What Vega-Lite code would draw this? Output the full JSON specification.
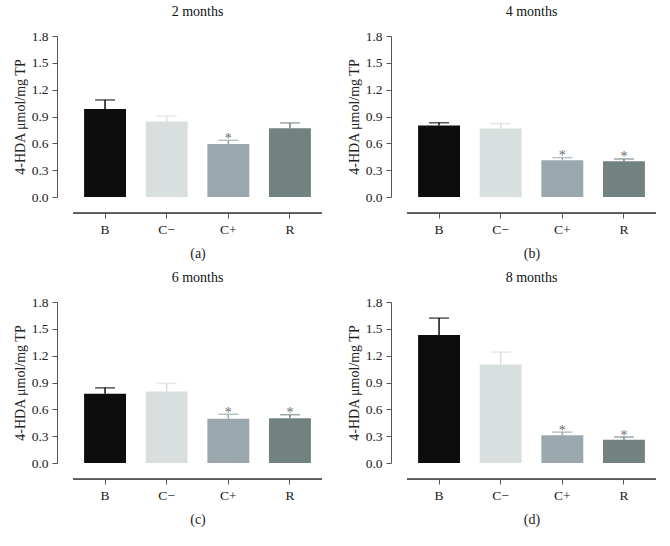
{
  "$schema": "https://vega.github.io/schema/vega-lite/v6.json",
  "padding": {"left": 13, "top": 5, "right": 5, "bottom": 5},
  "background": "white",
  "config": {
    "view": {"stroke": null},
    "font": "Liberation Serif",
    "title": {"font": "Liberation Serif", "fontSize": 14, "fontWeight": "normal", "color": "#111", "offset": 10},
    "axis": {
      "labelFont": "Liberation Serif", "labelFontSize": 13.5, "labelColor": "#222", "labelOverlap": false,
      "titleFont": "Liberation Serif", "titleFontSize": 14, "titleFontWeight": "normal", "titleColor": "#222",
      "domainColor": "#555", "tickColor": "#555", "domainWidth": 1, "tickWidth": 1,
      "grid": false, "tickSize": 5, "offset": 16
    },
    "axisX": {"labelPadding": 4, "titlePadding": 11, "labelAngle": 0},
    "axisY": {"labelPadding": 4, "titlePadding": 4}
  },
  "datasets": {
    "d": [
      {"panel": "a", "group": "B", "value": 0.985, "upper": 1.085, "sig": ""},
      {"panel": "a", "group": "C−", "value": 0.845, "upper": 0.905, "sig": ""},
      {"panel": "a", "group": "C+", "value": 0.593, "upper": 0.634, "sig": "*"},
      {"panel": "a", "group": "R", "value": 0.768, "upper": 0.828, "sig": ""},
      {"panel": "b", "group": "B", "value": 0.80, "upper": 0.83, "sig": ""},
      {"panel": "b", "group": "C−", "value": 0.765, "upper": 0.82, "sig": ""},
      {"panel": "b", "group": "C+", "value": 0.41, "upper": 0.44, "sig": "*"},
      {"panel": "b", "group": "R", "value": 0.40, "upper": 0.425, "sig": "*"},
      {"panel": "c", "group": "B", "value": 0.775, "upper": 0.84, "sig": ""},
      {"panel": "c", "group": "C−", "value": 0.80, "upper": 0.89, "sig": ""},
      {"panel": "c", "group": "C+", "value": 0.495, "upper": 0.545, "sig": "*"},
      {"panel": "c", "group": "R", "value": 0.50, "upper": 0.54, "sig": "*"},
      {"panel": "d", "group": "B", "value": 1.43, "upper": 1.62, "sig": ""},
      {"panel": "d", "group": "C−", "value": 1.10, "upper": 1.24, "sig": ""},
      {"panel": "d", "group": "C+", "value": 0.31, "upper": 0.345, "sig": "*"},
      {"panel": "d", "group": "R", "value": 0.26, "upper": 0.29, "sig": "*"}
    ]
  },
  "spacing": 10,
  "vconcat": [
    {"spacing": 24, "hconcat": [
      {
        "title": "2 months", "width": 249, "height": 161,
        "data": {"name": "d"},
        "transform": [{"filter": "datum.panel == 'a'"}],
        "layer": [
          {"mark": {"type": "rule", "strokeWidth": 1, "color": "#555"}, "encoding": {"y": {"datum": -0.18, "type": "quantitative", "scale": {"domain": [0, 1.8]}, "axis": {"title": "4-HDA μmol/mg TP", "values": [0, 0.3, 0.6, 0.9, 1.2, 1.5, 1.8], "format": ".1f", "labelOverlap": false}}}},
          {"mark": {"type": "bar"}, "encoding": {"x": {"field": "group", "type": "nominal", "sort": ["B", "C−", "C+", "R"], "scale": {"paddingInner": 0.32, "paddingOuter": 0.18}, "axis": {"title": "(a)", "domain": false, "ticks": true, "labelAngle": 0}}, "y": {"field": "value", "type": "quantitative", "scale": {"domain": [0, 1.8]}, "axis": {"title": "4-HDA μmol/mg TP", "values": [0, 0.3, 0.6, 0.9, 1.2, 1.5, 1.8], "format": ".1f", "labelOverlap": false}}, "color": {"field": "group", "type": "nominal", "legend": null, "scale": {"domain": ["B", "C−", "C+", "R"], "range": ["#0d0d0d", "#d8dfde", "#9aa8ae", "#728281"]}}}},
          {"mark": {"type": "rule", "strokeWidth": 1.5}, "encoding": {"x": {"field": "group", "type": "nominal", "sort": ["B", "C−", "C+", "R"], "axis": {"title": "(a)", "domain": false, "ticks": true, "labelAngle": 0}}, "y": {"field": "value", "type": "quantitative", "axis": {"title": "4-HDA μmol/mg TP", "values": [0, 0.3, 0.6, 0.9, 1.2, 1.5, 1.8], "format": ".1f", "labelOverlap": false}}, "y2": {"field": "upper"}, "color": {"field": "group", "type": "nominal", "legend": null, "scale": {"domain": ["B", "C−", "C+", "R"], "range": ["#444444", "#c9d1d1", "#a3b0b5", "#7c8a8a"]}}}},
          {"mark": {"type": "tick", "thickness": 1.5, "size": 20}, "encoding": {"x": {"field": "group", "type": "nominal", "sort": ["B", "C−", "C+", "R"], "axis": {"title": "(a)", "domain": false, "ticks": true, "labelAngle": 0}}, "y": {"field": "upper", "type": "quantitative", "axis": {"title": "4-HDA μmol/mg TP", "values": [0, 0.3, 0.6, 0.9, 1.2, 1.5, 1.8], "format": ".1f", "labelOverlap": false}}, "color": {"field": "group", "type": "nominal", "legend": null}}},
          {"mark": {"type": "text", "baseline": "alphabetic", "dy": 2.5, "fontSize": 14, "color": "#6a6a6a"}, "encoding": {"x": {"field": "group", "type": "nominal", "sort": ["B", "C−", "C+", "R"], "axis": {"title": "(a)", "domain": false, "ticks": true, "labelAngle": 0}}, "y": {"field": "upper", "type": "quantitative", "axis": {"title": "4-HDA μmol/mg TP", "values": [0, 0.3, 0.6, 0.9, 1.2, 1.5, 1.8], "format": ".1f", "labelOverlap": false}}, "text": {"field": "sig"}}}
        ]
      },
      {
        "title": "4 months", "width": 249, "height": 161,
        "data": {"name": "d"},
        "transform": [{"filter": "datum.panel == 'b'"}],
        "layer": [
          {"mark": {"type": "rule", "strokeWidth": 1, "color": "#555"}, "encoding": {"y": {"datum": -0.18, "type": "quantitative", "scale": {"domain": [0, 1.8]}, "axis": {"title": "4-HDA μmol/mg TP", "values": [0, 0.3, 0.6, 0.9, 1.2, 1.5, 1.8], "format": ".1f", "labelOverlap": false}}}},
          {"mark": {"type": "bar"}, "encoding": {"x": {"field": "group", "type": "nominal", "sort": ["B", "C−", "C+", "R"], "scale": {"paddingInner": 0.32, "paddingOuter": 0.18}, "axis": {"title": "(b)", "domain": false, "ticks": true, "labelAngle": 0}}, "y": {"field": "value", "type": "quantitative", "scale": {"domain": [0, 1.8]}, "axis": {"title": "4-HDA μmol/mg TP", "values": [0, 0.3, 0.6, 0.9, 1.2, 1.5, 1.8], "format": ".1f", "labelOverlap": false}}, "color": {"field": "group", "type": "nominal", "legend": null, "scale": {"domain": ["B", "C−", "C+", "R"], "range": ["#0d0d0d", "#d8dfde", "#9aa8ae", "#728281"]}}}},
          {"mark": {"type": "rule", "strokeWidth": 1.5}, "encoding": {"x": {"field": "group", "type": "nominal", "sort": ["B", "C−", "C+", "R"], "axis": {"title": "(b)", "domain": false, "ticks": true, "labelAngle": 0}}, "y": {"field": "value", "type": "quantitative", "axis": {"title": "4-HDA μmol/mg TP", "values": [0, 0.3, 0.6, 0.9, 1.2, 1.5, 1.8], "format": ".1f", "labelOverlap": false}}, "y2": {"field": "upper"}, "color": {"field": "group", "type": "nominal", "legend": null, "scale": {"domain": ["B", "C−", "C+", "R"], "range": ["#444444", "#c9d1d1", "#a3b0b5", "#7c8a8a"]}}}},
          {"mark": {"type": "tick", "thickness": 1.5, "size": 20}, "encoding": {"x": {"field": "group", "type": "nominal", "sort": ["B", "C−", "C+", "R"], "axis": {"title": "(b)", "domain": false, "ticks": true, "labelAngle": 0}}, "y": {"field": "upper", "type": "quantitative", "axis": {"title": "4-HDA μmol/mg TP", "values": [0, 0.3, 0.6, 0.9, 1.2, 1.5, 1.8], "format": ".1f", "labelOverlap": false}}, "color": {"field": "group", "type": "nominal", "legend": null}}},
          {"mark": {"type": "text", "baseline": "alphabetic", "dy": 2.5, "fontSize": 14, "color": "#6a6a6a"}, "encoding": {"x": {"field": "group", "type": "nominal", "sort": ["B", "C−", "C+", "R"], "axis": {"title": "(b)", "domain": false, "ticks": true, "labelAngle": 0}}, "y": {"field": "upper", "type": "quantitative", "axis": {"title": "4-HDA μmol/mg TP", "values": [0, 0.3, 0.6, 0.9, 1.2, 1.5, 1.8], "format": ".1f", "labelOverlap": false}}, "text": {"field": "sig"}}}
        ]
      }
    ]},
    {"spacing": 24, "hconcat": [
      {
        "title": "6 months", "width": 249, "height": 161,
        "data": {"name": "d"},
        "transform": [{"filter": "datum.panel == 'c'"}],
        "layer": [
          {"mark": {"type": "rule", "strokeWidth": 1, "color": "#555"}, "encoding": {"y": {"datum": -0.18, "type": "quantitative", "scale": {"domain": [0, 1.8]}, "axis": {"title": "4-HDA μmol/mg TP", "values": [0, 0.3, 0.6, 0.9, 1.2, 1.5, 1.8], "format": ".1f", "labelOverlap": false}}}},
          {"mark": {"type": "bar"}, "encoding": {"x": {"field": "group", "type": "nominal", "sort": ["B", "C−", "C+", "R"], "scale": {"paddingInner": 0.32, "paddingOuter": 0.18}, "axis": {"title": "(c)", "domain": false, "ticks": true, "labelAngle": 0}}, "y": {"field": "value", "type": "quantitative", "scale": {"domain": [0, 1.8]}, "axis": {"title": "4-HDA μmol/mg TP", "values": [0, 0.3, 0.6, 0.9, 1.2, 1.5, 1.8], "format": ".1f", "labelOverlap": false}}, "color": {"field": "group", "type": "nominal", "legend": null, "scale": {"domain": ["B", "C−", "C+", "R"], "range": ["#0d0d0d", "#d8dfde", "#9aa8ae", "#728281"]}}}},
          {"mark": {"type": "rule", "strokeWidth": 1.5}, "encoding": {"x": {"field": "group", "type": "nominal", "sort": ["B", "C−", "C+", "R"], "axis": {"title": "(c)", "domain": false, "ticks": true, "labelAngle": 0}}, "y": {"field": "value", "type": "quantitative", "axis": {"title": "4-HDA μmol/mg TP", "values": [0, 0.3, 0.6, 0.9, 1.2, 1.5, 1.8], "format": ".1f", "labelOverlap": false}}, "y2": {"field": "upper"}, "color": {"field": "group", "type": "nominal", "legend": null, "scale": {"domain": ["B", "C−", "C+", "R"], "range": ["#444444", "#c9d1d1", "#a3b0b5", "#7c8a8a"]}}}},
          {"mark": {"type": "tick", "thickness": 1.5, "size": 20}, "encoding": {"x": {"field": "group", "type": "nominal", "sort": ["B", "C−", "C+", "R"], "axis": {"title": "(c)", "domain": false, "ticks": true, "labelAngle": 0}}, "y": {"field": "upper", "type": "quantitative", "axis": {"title": "4-HDA μmol/mg TP", "values": [0, 0.3, 0.6, 0.9, 1.2, 1.5, 1.8], "format": ".1f", "labelOverlap": false}}, "color": {"field": "group", "type": "nominal", "legend": null}}},
          {"mark": {"type": "text", "baseline": "alphabetic", "dy": 2.5, "fontSize": 14, "color": "#6a6a6a"}, "encoding": {"x": {"field": "group", "type": "nominal", "sort": ["B", "C−", "C+", "R"], "axis": {"title": "(c)", "domain": false, "ticks": true, "labelAngle": 0}}, "y": {"field": "upper", "type": "quantitative", "axis": {"title": "4-HDA μmol/mg TP", "values": [0, 0.3, 0.6, 0.9, 1.2, 1.5, 1.8], "format": ".1f", "labelOverlap": false}}, "text": {"field": "sig"}}}
        ]
      },
      {
        "title": "8 months", "width": 249, "height": 161,
        "data": {"name": "d"},
        "transform": [{"filter": "datum.panel == 'd'"}],
        "layer": [
          {"mark": {"type": "rule", "strokeWidth": 1, "color": "#555"}, "encoding": {"y": {"datum": -0.18, "type": "quantitative", "scale": {"domain": [0, 1.8]}, "axis": {"title": "4-HDA μmol/mg TP", "values": [0, 0.3, 0.6, 0.9, 1.2, 1.5, 1.8], "format": ".1f", "labelOverlap": false}}}},
          {"mark": {"type": "bar"}, "encoding": {"x": {"field": "group", "type": "nominal", "sort": ["B", "C−", "C+", "R"], "scale": {"paddingInner": 0.32, "paddingOuter": 0.18}, "axis": {"title": "(d)", "domain": false, "ticks": true, "labelAngle": 0}}, "y": {"field": "value", "type": "quantitative", "scale": {"domain": [0, 1.8]}, "axis": {"title": "4-HDA μmol/mg TP", "values": [0, 0.3, 0.6, 0.9, 1.2, 1.5, 1.8], "format": ".1f", "labelOverlap": false}}, "color": {"field": "group", "type": "nominal", "legend": null, "scale": {"domain": ["B", "C−", "C+", "R"], "range": ["#0d0d0d", "#d8dfde", "#9aa8ae", "#728281"]}}}},
          {"mark": {"type": "rule", "strokeWidth": 1.5}, "encoding": {"x": {"field": "group", "type": "nominal", "sort": ["B", "C−", "C+", "R"], "axis": {"title": "(d)", "domain": false, "ticks": true, "labelAngle": 0}}, "y": {"field": "value", "type": "quantitative", "axis": {"title": "4-HDA μmol/mg TP", "values": [0, 0.3, 0.6, 0.9, 1.2, 1.5, 1.8], "format": ".1f", "labelOverlap": false}}, "y2": {"field": "upper"}, "color": {"field": "group", "type": "nominal", "legend": null, "scale": {"domain": ["B", "C−", "C+", "R"], "range": ["#444444", "#c9d1d1", "#a3b0b5", "#7c8a8a"]}}}},
          {"mark": {"type": "tick", "thickness": 1.5, "size": 20}, "encoding": {"x": {"field": "group", "type": "nominal", "sort": ["B", "C−", "C+", "R"], "axis": {"title": "(d)", "domain": false, "ticks": true, "labelAngle": 0}}, "y": {"field": "upper", "type": "quantitative", "axis": {"title": "4-HDA μmol/mg TP", "values": [0, 0.3, 0.6, 0.9, 1.2, 1.5, 1.8], "format": ".1f", "labelOverlap": false}}, "color": {"field": "group", "type": "nominal", "legend": null}}},
          {"mark": {"type": "text", "baseline": "alphabetic", "dy": 2.5, "fontSize": 14, "color": "#6a6a6a"}, "encoding": {"x": {"field": "group", "type": "nominal", "sort": ["B", "C−", "C+", "R"], "axis": {"title": "(d)", "domain": false, "ticks": true, "labelAngle": 0}}, "y": {"field": "upper", "type": "quantitative", "axis": {"title": "4-HDA μmol/mg TP", "values": [0, 0.3, 0.6, 0.9, 1.2, 1.5, 1.8], "format": ".1f", "labelOverlap": false}}, "text": {"field": "sig"}}}
        ]
      }
    ]}
  ]
}
